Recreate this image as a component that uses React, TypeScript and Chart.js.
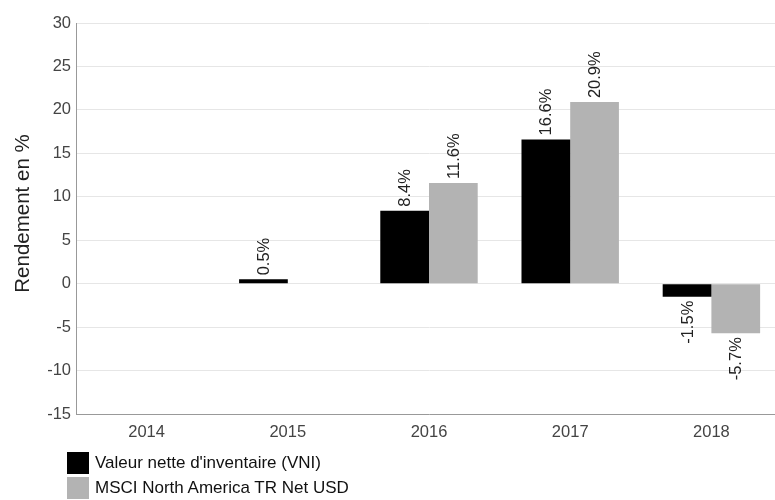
import React, { useEffect, useRef } from "react";
import { Chart, registerables } from "chart.js";

Chart.register(...registerables);

const years = ["2014", "2015", "2016", "2017", "2018"];
const vniValues: (number | null)[] = [null, 0.5, 8.4, 16.6, -1.5];
const msciValues: (number | null)[] = [null, null, 11.6, 20.9, -5.7];
const seriesNames = ["Valeur nette d'inventaire (VNI)", "MSCI North America TR Net USD"];
const seriesColors = ["#000000", "#b3b3b3"];
const yMin = -15;
const yMax = 30;
const yStep = 5;
const yTitle = "Rendement en %";

const FONT = '"Liberation Sans", Arial, Helvetica, sans-serif';

const barLabelPlugin = {
  id: "barLabels",
  afterDatasetsDraw(chart: any) {
    const ctx = chart.ctx;
    chart.data.datasets.forEach((ds: any, i: number) => {
      const meta = chart.getDatasetMeta(i);
      meta.data.forEach((bar: any, j: number) => {
        const v = ds.data[j];
        if (v === null || v === undefined) return;
        const { x, y } = bar.getProps(["x", "y"], true);
        ctx.save();
        const ay = v >= 0 ? y - 4 : y + 4;
        ctx.translate(x + 1, ay);
        ctx.rotate(-Math.PI / 2);
        ctx.textAlign = v >= 0 ? "left" : "right";
        ctx.textBaseline = "middle";
        ctx.font = `16.5px ${FONT}`;
        ctx.fillStyle = "#222222";
        ctx.fillText(v.toFixed(1) + "%", 0, 0);
        ctx.restore();
      });
    });
  },
};

const yTitlePlugin = {
  id: "yTitle",
  afterDraw(chart: any) {
    const ctx = chart.ctx;
    const area = chart.chartArea;
    ctx.save();
    ctx.translate(23, (area.top + area.bottom) / 2 - 5);
    ctx.rotate(-Math.PI / 2);
    ctx.textAlign = "center";
    ctx.textBaseline = "middle";
    ctx.font = `20.5px ${FONT}`;
    ctx.fillStyle = "#222222";
    ctx.fillText(yTitle, 0, 0);
    ctx.restore();
  },
};

export default function App() {
  const canvasRef = useRef<HTMLCanvasElement | null>(null);

  useEffect(() => {
    if (!canvasRef.current) return;
    Chart.defaults.font.family = FONT;
    const chart = new Chart(canvasRef.current, {
      type: "bar",
      data: {
        labels: years,
        datasets: [
          {
            label: seriesNames[0],
            data: vniValues,
            backgroundColor: seriesColors[0],
            borderWidth: 0,
            categoryPercentage: 0.69,
            barPercentage: 1.0,
          },
          {
            label: seriesNames[1],
            data: msciValues,
            backgroundColor: seriesColors[1],
            borderWidth: 0,
            categoryPercentage: 0.69,
            barPercentage: 1.0,
          },
        ],
      },
      options: {
        animation: false,
        responsive: true,
        maintainAspectRatio: false,
        layout: { padding: { top: 23, left: 0, right: 0, bottom: 56 } },
        plugins: {
          legend: { display: false },
          tooltip: { enabled: false },
        },
        scales: {
          x: {
            grid: { display: false, drawTicks: false },
            border: { display: true, color: "#999999", width: 1 },
            ticks: { padding: 9, color: "#444444", font: { size: 16.5, family: FONT } },
            afterFit(scale: any) {
              scale.height = 30;
            },
          },
          y: {
            min: yMin,
            max: yMax,
            ticks: {
              stepSize: yStep,
              padding: 5,
              color: "#444444",
              font: { size: 16.5, family: FONT },
            },
            grid: { color: "#e6e6e6", drawTicks: false },
            border: { display: true, color: "#999999", width: 1 },
            title: { display: false },
            afterFit(scale: any) {
              scale.width = 76;
            },
          },
        },
      },
      plugins: [barLabelPlugin, yTitlePlugin],
    });
    return () => chart.destroy();
  }, []);

  return (
    <div
      style={{
        position: "fixed",
        left: 0,
        top: 0,
        width: 775,
        height: 500,
        overflow: "hidden",
        background: "#ffffff",
      }}
    >
      <div style={{ position: "absolute", left: 0, top: 0, width: 782, height: 500 }}>
        <canvas ref={canvasRef} />
      </div>
      {seriesNames.map((name, i) => (
        <div
          key={name}
          style={{
            position: "absolute",
            left: 67,
            top: 452 + i * 25,
            height: 22,
            display: "flex",
            alignItems: "center",
            fontFamily: FONT,
            fontSize: 17,
            color: "#111111",
            whiteSpace: "nowrap",
          }}
        >
          <span
            style={{
              display: "inline-block",
              width: 22,
              height: 22,
              background: seriesColors[i],
              marginRight: 6,
            }}
          />
          <span>{name}</span>
        </div>
      ))}
    </div>
  );
}
